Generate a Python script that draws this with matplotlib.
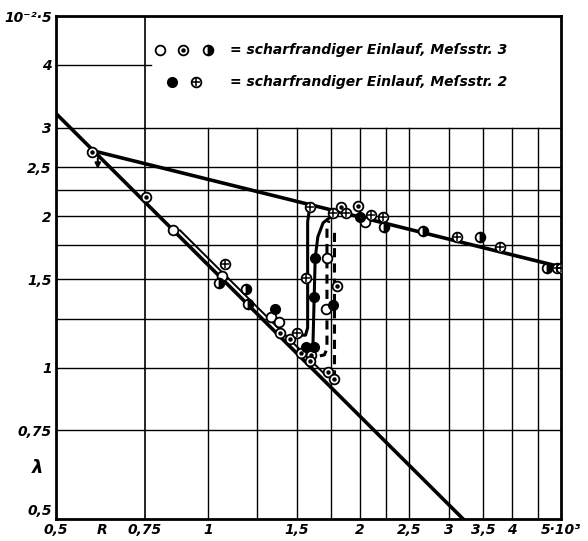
import matplotlib.pyplot as plt

plt.rcParams["font.family"] = ["DejaVu Sans"]

# measured points, R in 10^3, lambda in 10^-2
R_open = [0.852, 1.065, 1.33, 1.38, 1.71, 1.72, 2.05]
lam_open = [1.88, 1.52, 1.26, 1.23, 1.31, 1.65, 1.95]

R_dot = [0.589, 0.753, 1.39, 1.45, 1.53, 1.60, 1.59, 1.73, 1.78, 1.80, 1.83, 1.98]
lam_dot = [2.68, 2.18, 1.17, 1.14, 1.07, 1.06, 1.03, 0.98, 0.95, 1.45, 2.09, 2.10]

R_half = [1.05, 1.19, 1.20, 2.23, 2.67, 3.45, 4.69]
lam_half = [1.47, 1.43, 1.34, 1.90, 1.87, 1.82, 1.58]

R_full = [1.36, 1.56, 1.62, 1.62, 1.63, 1.77, 2.00]
lam_full = [1.31, 1.10, 1.10, 1.38, 1.65, 1.33, 1.99]

R_cross = [1.08, 1.50, 1.56, 1.59, 1.77, 1.88, 2.10, 2.22, 3.11, 3.78, 4.90, 5.00]
lam_cross = [1.61, 1.17, 1.51, 2.09, 2.03, 2.03, 2.01, 1.99, 1.82, 1.74, 1.58, 1.58]

# drawn lines
lam_line_R = [0.5, 3.2]
lam_line_l = [3.2, 0.5]
lam2_R = [0.88, 1.72]
lam2_l = [1.875, 0.96]
turb_R = [0.59, 5.0]
turb_l = [2.70, 1.585]

curveA_R = [1.50, 1.56, 1.575, 1.575, 1.59]
curveA_l = [1.16, 1.16, 1.20, 1.95, 2.08]
curveB_R = [1.613, 1.63, 1.65, 1.69, 1.745, 1.80]
curveB_l = [1.094, 1.65, 1.82, 1.94, 1.99, 2.03]
dashC_R = [1.665, 1.70, 1.72, 1.72, 1.735]
dashC_l = [1.055, 1.06, 1.09, 1.90, 1.96]
dashD_R = [1.78, 1.78]
dashD_l = [0.95, 1.90]

grid_R = [1, 1.25, 1.5, 1.75, 2, 2.25, 2.5, 3, 3.5, 4, 4.5]
grid_l = [0.75, 1, 1.25, 1.5, 1.75, 2, 2.25, 2.5, 3]

x_ticks = [0.5, 0.75, 1, 1.5, 2, 2.5, 3, 3.5, 4, 5]
x_labels = ["0,5", "0,75", "1", "1,5", "2", "2,5", "3", "3,5", "4", "5·10³"]
y_ticks = [0.75, 1, 1.5, 2, 2.5, 3, 4, 5]
y_labels = ["0,75", "1", "1,5", "2", "2,5", "3", "4", "10⁻²·5"]

FONT = dict(style="italic", weight="bold", size=10)


def marker(ax, x, y, kind, ms=7, **kw):
    if kind == "open":
        ax.plot(x, y, "o", ms=ms, mfc="white", mec="k", mew=1.3, ls="none", zorder=5, **kw)
    elif kind == "dot":
        ax.plot(x, y, "o", ms=ms, mfc="white", mec="k", mew=1.3, ls="none", zorder=5, **kw)
        ax.plot(x, y, "o", ms=2.2, color="k", ls="none", zorder=6, **kw)
    elif kind == "half":
        ax.plot(x, y, "o", ms=ms, mfc="k", mfcalt="white", fillstyle="right",
                mec="k", mew=1.3, ls="none", zorder=5, **kw)
    elif kind == "full":
        ax.plot(x, y, "o", ms=ms, color="k", ls="none", zorder=5, **kw)
    elif kind == "cross":
        ax.plot(x, y, "o", ms=ms, mfc="white", mec="k", mew=1.3, ls="none", zorder=5, **kw)
        ax.plot(x, y, "+", ms=ms - 1, mec="k", mew=1.1, ls="none", zorder=6, **kw)


fig = plt.figure(figsize=(5.88, 5.41), dpi=100)
ax = fig.add_axes([56 / 588, 22 / 541, 505 / 588, 503 / 541])
ax.set_xscale("log")
ax.set_yscale("log")
ax.set_xlim(0.5, 5)
ax.set_ylim(0.5, 5)
ax.minorticks_off()
ax.set_xticks(x_ticks, x_labels, **FONT)
ax.set_yticks(y_ticks, y_labels, **FONT)
ax.tick_params(length=0, pad=3)
for s in ax.spines.values():
    s.set_linewidth(2)

# grid (upper part is the legend box)
for r in grid_R:
    ax.plot([r, r], [0.5, 3], color="k", lw=1)
ax.plot([0.75, 0.75], [0.5, 5], color="k", lw=1.2)
for l in grid_l:
    ax.plot([0.5, 5], [l, l], color="k", lw=1)
ax.plot([0.5, 0.77], [4, 4], color="k", lw=1)

ax.plot(lam_line_R, lam_line_l, color="k", lw=2.6, zorder=3)
ax.plot(lam2_R, lam2_l, color="k", lw=1.4, zorder=3)
ax.plot(turb_R, turb_l, color="k", lw=2.6, zorder=3)
ax.plot(curveA_R, curveA_l, color="k", lw=2.2, zorder=3)
ax.plot(curveB_R, curveB_l, color="k", lw=2.2, zorder=3)
ax.plot(dashC_R, dashC_l, color="k", lw=2.2, ls=(0, (3, 2)), zorder=3)
ax.plot(dashD_R, dashD_l, color="k", lw=2.2, ls=(0, (3, 2)), zorder=3)

ax.annotate("", xy=(0.605, 2.45), xytext=(0.605, 2.64),
            arrowprops=dict(arrowstyle="-|>", color="k", lw=1.5, mutation_scale=8))

marker(ax, R_open, lam_open, "open")
marker(ax, R_dot, lam_dot, "dot")
marker(ax, R_half, lam_half, "half")
marker(ax, R_full, lam_full, "full")
marker(ax, R_cross, lam_cross, "cross")

# legend
tr = ax.transAxes
for xp, kind in zip([0.206, 0.251, 0.301], ["open", "dot", "half"]):
    marker(ax, [xp], [0.932], kind, transform=tr)
for xp, kind in zip([0.230, 0.277], ["full", "cross"]):
    marker(ax, [xp], [0.869], kind, transform=tr)
ax.text(0.345, 0.932, "= scharfrandiger Einlauf, Meſsstr. 3", transform=tr,
        va="center", ha="left", **FONT)
ax.text(0.345, 0.869, "= scharfrandiger Einlauf, Meſsstr. 2", transform=tr,
        va="center", ha="left", **FONT)

ax.text(0.091, -0.007, "R", transform=tr, va="top", ha="center", **FONT)
ax.text(-0.036, 0.101, "λ", transform=tr, va="center", ha="center",
        style="italic", weight="bold", size=13)
# y label 0,5 sits just above the corner, clear of the x label
ax.text(-0.008, 0.016, "0,5", transform=tr, va="center", ha="right", **FONT)

fig.savefig("out.png", dpi=100)
